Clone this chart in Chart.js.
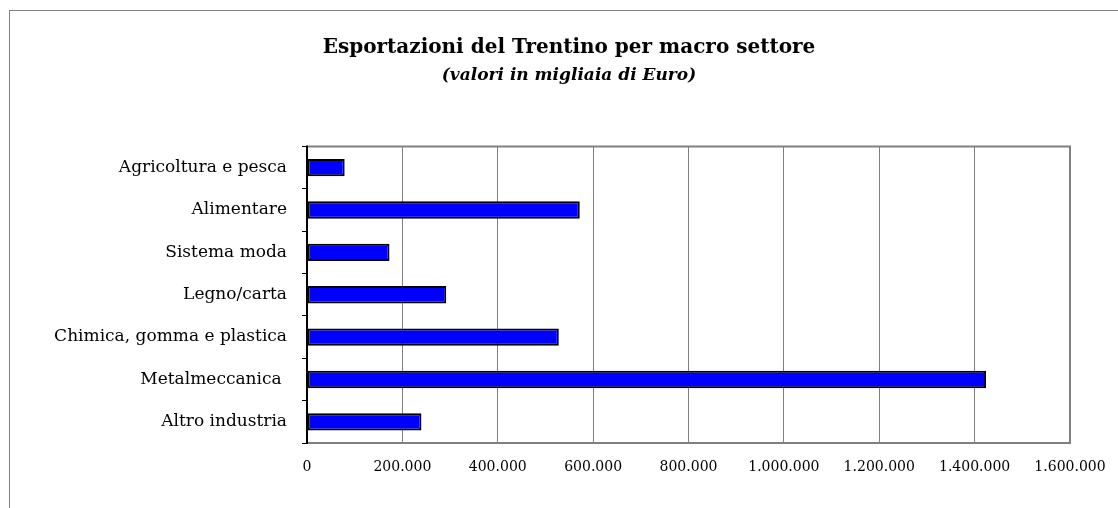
<!DOCTYPE html>
<html>
<head>
<meta charset="utf-8">
<script src="https://cdn.jsdelivr.net/npm/chart.js@4"></script>
<style>
  html, body { margin: 0; padding: 0; background: #fff; }
  #wrap { position: relative; width: 1118px; height: 508px; overflow: hidden; }
  #frame {
    position: absolute; left: 9px; top: 10px; width: 1200px; height: 600px;
    border-left: 1px solid #808080; border-top: 1px solid #808080;
  }
  canvas { position: absolute; left: 0; top: 0; }
</style>
</head>
<body>
<div id="wrap">
  <div id="frame"></div>
  <canvas id="chart" width="1118" height="508"></canvas>
</div>
<script>
const settori = [
  'Agricoltura e pesca',
  'Alimentare',
  'Sistema moda',
  'Legno/carta',
  'Chimica, gomma e plastica',
  'Metalmeccanica ',
  'Altro industria',
];
// migliaia di euro
const esportazioni = [79000, 572000, 173000, 292000, 528000, 1424000, 240000];

const xMin = 0;
const xMax = 1600000;
const xStep = 200000;

const fmt = (v) => String(v).replace(/\B(?=(\d{3})+(?!\d))/g, '.');

const SERIF = '"DejaVu Serif", serif';

// il titolo è centrato sulla cornice esterna, non sul canvas
const shiftTitles = {
  id: 'shiftTitles',
  afterLayout(chart) {
    chart.boxes.forEach((b) => {
      if (b.options && b.options.text !== undefined && b.position === 'top') {
        b.left += 34;
        b.right += 34;
      }
    });
  },
};

// cornice grigia dell'area del grafico + asse verticale nero
const plotFrame = {
  id: 'plotFrame',
  afterDraw(chart) {
    const {ctx, chartArea: a} = chart;
    ctx.save();
    ctx.strokeStyle = '#808080';
    ctx.lineWidth = 2;
    ctx.beginPath();
    ctx.moveTo(a.left, a.top);
    ctx.lineTo(a.right, a.top);
    ctx.lineTo(a.right, a.bottom);
    ctx.lineTo(a.left, a.bottom);
    ctx.stroke();
    ctx.strokeStyle = '#000';
    ctx.beginPath();
    ctx.moveTo(a.left, a.top - 1);
    ctx.lineTo(a.left, a.bottom + 1);
    ctx.stroke();
    ctx.restore();
  },
};

new Chart(document.getElementById('chart'), {
  type: 'bar',
  data: {
    labels: settori,
    datasets: [
      {
        data: esportazioni,
        backgroundColor: '#0000ff',
        borderColor: '#000000',
        borderWidth: 2,
        borderSkipped: false,
        categoryPercentage: 1,
        barPercentage: 0.41,
      },
    ],
  },
  options: {
    indexAxis: 'y',
    responsive: false,
    animation: false,
    layout: {padding: {left: 0, right: 48, top: 0, bottom: 22}},
    plugins: {
      legend: {display: false},
      tooltip: {enabled: false},
      title: {
        display: true,
        text: 'Esportazioni del Trentino per macro settore',
        color: '#000',
        font: {family: SERIF, size: 20, weight: 'bold'},
        padding: {top: 36, bottom: 1},
      },
      subtitle: {
        display: true,
        text: '(valori in migliaia di Euro)',
        color: '#000',
        font: {family: SERIF, size: 17, weight: 'bold', style: 'italic'},
        padding: {top: 4, bottom: 61},
      },
    },
    scales: {
      x: {
        min: xMin,
        max: xMax,
        ticks: {
          stepSize: xStep,
          color: '#000',
          font: {family: SERIF, size: 14},
          padding: 16,
          callback: (v) => fmt(v),
        },
        grid: {color: '#808080', lineWidth: 1, drawTicks: false},
        border: {display: false},
        afterFit: (s) => {
          s.height = 43;
          // le etichette estreme stanno già nel margine
          s.paddingLeft = 0;
          s.paddingRight = 0;
        },
      },
      y: {
        ticks: {
          color: '#000',
          font: {family: SERIF, size: 17},
          padding: 15,
        },
        grid: {
          offset: true,
          drawOnChartArea: false,
          drawTicks: true,
          tickLength: 5,
          color: '#000',
        },
        border: {display: false},
        afterFit: (s) => { s.width = 307; },
      },
    },
  },
  plugins: [shiftTitles, plotFrame],
});
</script>
</body>
</html>
